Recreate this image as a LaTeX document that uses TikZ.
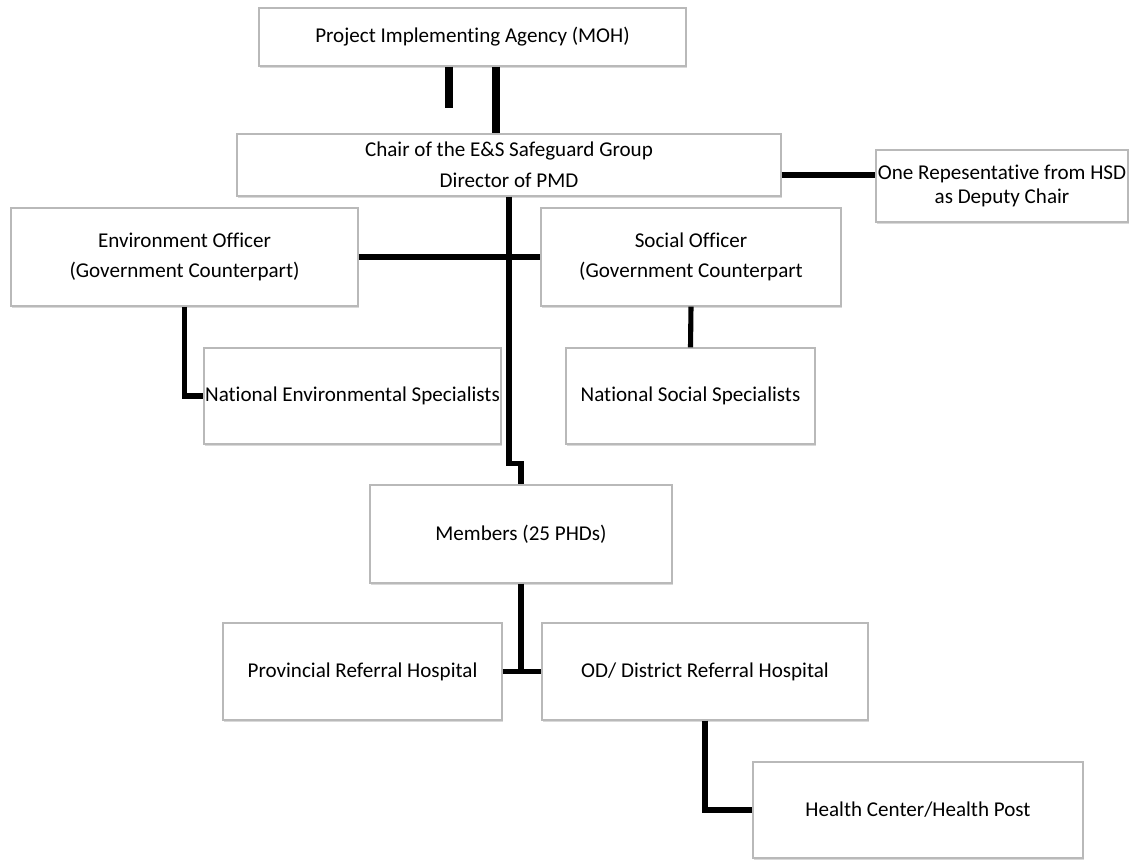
\documentclass[tikz,border=0pt]{standalone}
\usepackage{fontspec}
\setmainfont{Carlito}[Ligatures=NoCommon]
\usepackage{tikz}
\usetikzlibrary{positioning,calc,shadows}

\begin{document}
\begin{tikzpicture}[x=.02cm,y=-.02cm,font=\fontsize{12}{14}\selectfont,
  box/.style={draw=gray!55,line width=.7pt,fill=white,align=center,inner sep=0pt,
    drop shadow={opacity=.3,shadow xshift=.5pt,shadow yshift=-1.3pt}},
  link/.style={line width=2.9pt},
  bar/.style={line width=4pt}]
\useasboundingbox (0,0) rectangle (1129,859);
% top of the tree
\node[box,minimum width=8.54cm,minimum height=1.16cm] (pia) at (472.5,37) {Project Implementing Agency (MOH)};
\node[box,minimum width=10.88cm,minimum height=1.24cm] (chair) at (509,165) {Chair of the E\&S Safeguard Group\\[3.5pt] Director of PMD};
\node[box,minimum width=5.04cm,minimum height=1.44cm] (hsd) at (1002,186) {One Repesentative from HSD\\ as Deputy Chair};
% officers and specialists
\node[box,minimum width=6.94cm,minimum height=1.96cm] (env) at (184.5,257) {Environment Officer\\[3pt] (Government Counterpart)};
\node[box,minimum width=6cm,minimum height=1.96cm] (soc) at (691,257) {Social Officer\\[3pt] (Government Counterpart};
\node[box,minimum width=5.94cm,minimum height=1.92cm] (nes) at (352.5,396) {National Environmental Specialists};
\node[box,minimum width=4.98cm,minimum height=1.92cm] (nss) at (690.5,396) {National Social Specialists};
% members and hospitals
\node[box,minimum width=6.04cm,minimum height=1.96cm] (mem) at (521,534) {Members (25 PHDs)};
\node[box,minimum width=5.58cm,minimum height=1.94cm] (prh) at (362.5,671.5) {Provincial Referral Hospital};
\node[box,minimum width=6.52cm,minimum height=1.94cm] (odh) at (705,671.5) {OD/ District Referral Hospital};
\node[box,minimum width=6.6cm,minimum height=1.92cm] (hc) at (918,810) {Health Center/Health Post};

% connectors
\coordinate (stub) at (449,108);
\draw[bar] (pia.south -| stub) -- (stub);
\draw[bar] (pia.south -| 496,0) -- (chair.north -| 496,0);
\draw[link] (chair.east) ++(0,10) coordinate (c1) -- (c1 -| hsd.west);
\draw[link] (chair.south) -- ++(0,267) -| (mem.north);
\draw[link] (env.east) -- (soc.west);
\draw[link] (env.south) |- (nes.west);
\draw[link] (soc.south) -- (nss.north);
\draw[link] (mem.south) -- (mem.south |- prh.east);
\draw[link] (prh.east) -- (odh.west);
\draw[link] (odh.south) |- (hc.west);
\end{tikzpicture}
\end{document}
